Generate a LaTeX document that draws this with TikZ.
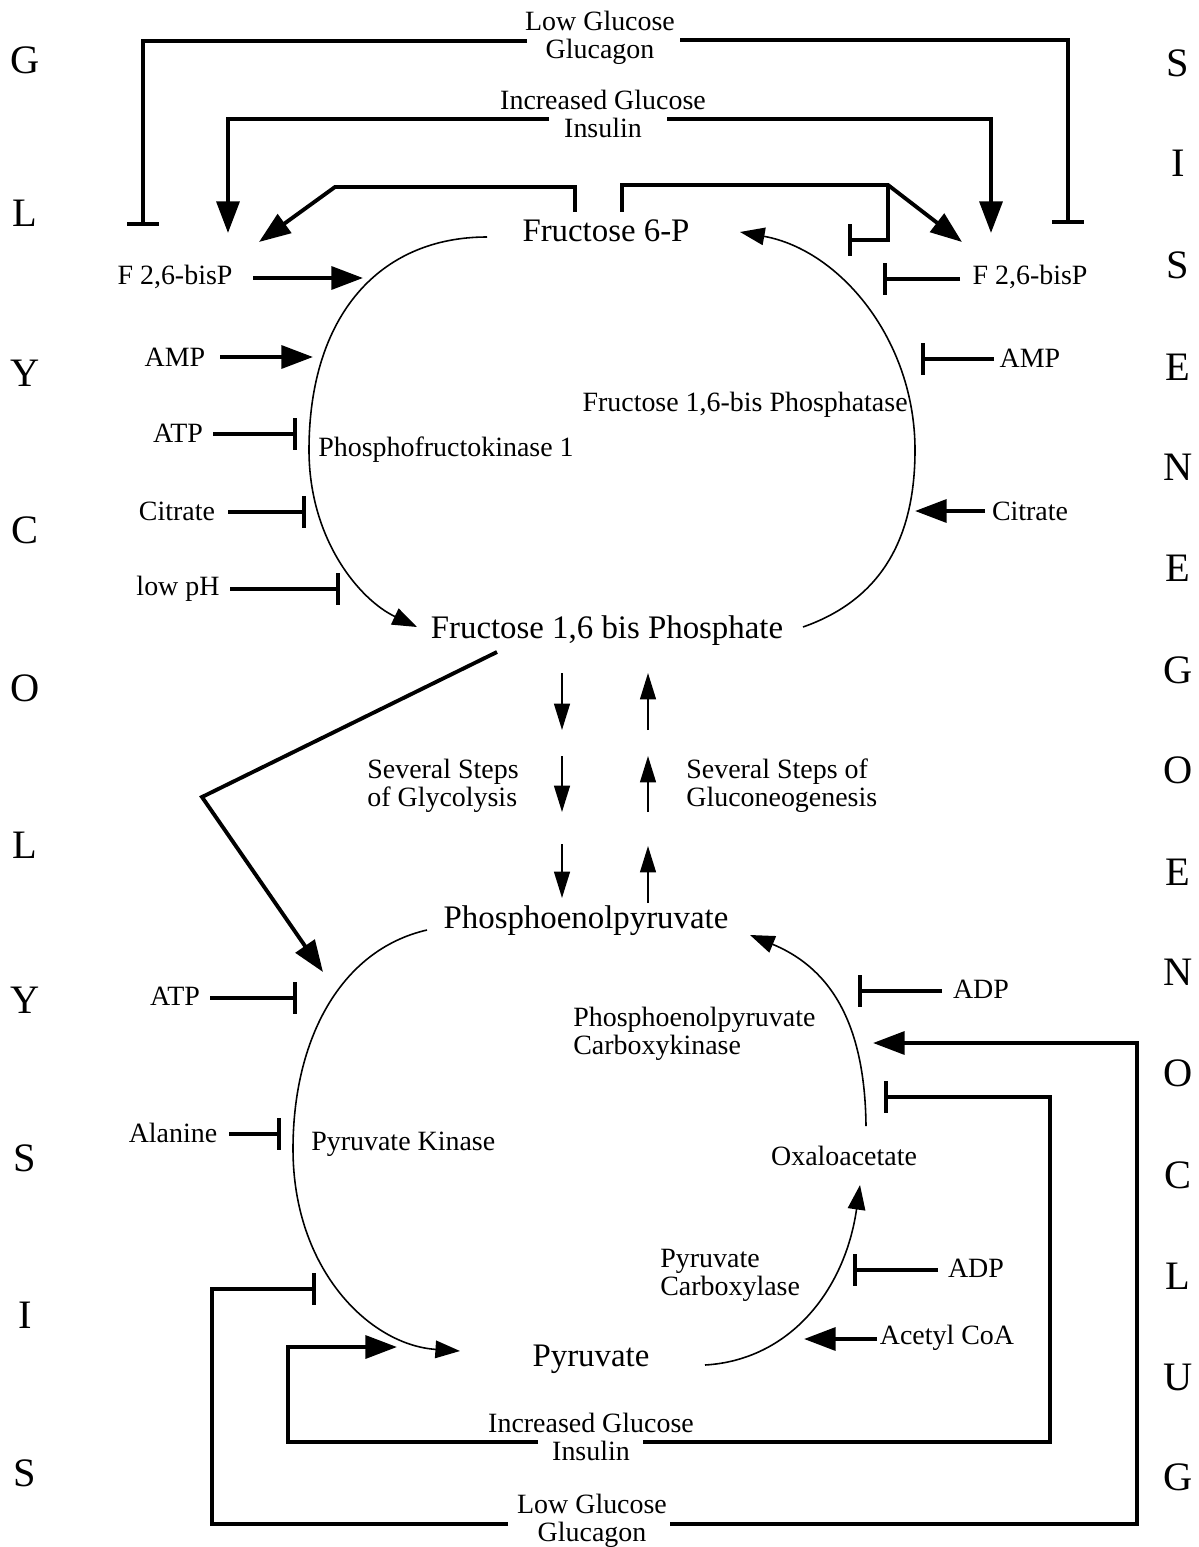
\documentclass[tikz,border=0pt]{standalone}
\usepackage{fontspec}
\setmainfont{Liberation Serif}
\usetikzlibrary{arrows.meta}
\begin{document}
\begin{tikzpicture}[x=0.02cm,y=-0.02cm,
  lbl/.style={font=\fontsize{15.9}{15.9}\selectfont, inner sep=0pt, align=center},
  lbll/.style={font=\fontsize{15.9}{15.9}\selectfont, inner sep=0pt, align=left},
  big/.style={font=\fontsize{18.7}{20}\selectfont, inner sep=0pt},
  sideletter/.style={font=\fontsize{23}{23}\selectfont, inner sep=0pt},
  act/.style={line width=2.2pt, -{Triangle[length=18pt,width=13pt]}},
  inh/.style={line width=2.2pt, -{Bar[width=18pt]}},
  flow/.style={line width=0.9pt, -{Triangle[length=14pt,width=10pt]}},
  stepflow/.style={line width=1.1pt, -{Triangle[length=15pt,width=9pt]}}
]
\useasboundingbox (0,0) rectangle (1199,1547);

% --- pathway labels on both sides ---
\foreach \ch/\yy [count=\i] in {G/60,L/213,Y/373,C/530,O/688,L/845,Y/1000,S/1158,I/1315,S/1473}
  \node[sideletter] (gly\i) at (25,\yy) {\ch};
\foreach \ch/\yy [count=\i] in {S/63,I/163,S/265,E/367,N/467,E/568,G/670,O/770,E/872,N/972,O/1073,C/1175,L/1276,U/1377,G/1477}
  \node[sideletter] (gng\i) at (1178,\yy) {\ch};

% --- metabolites ---
\node[big] (f6p)   at (606,231)  {Fructose 6-P};
\node[big] (f16bp) at (607,631)  {Fructose 1,6 bis Phosphate};
\node[big] (pep)   at (586,921)  {Phosphoenolpyruvate};
\node[big] (pyr)   at (591,1359) {Pyruvate};

% --- enzymes ---
\node[lbl,anchor=west] (pfk)    at (318,450) {Phosphofructokinase 1};
\node[lbl,anchor=east] (fbpase) at (908,405) {Fructose 1,6-bis Phosphatase};
\node[lbl,anchor=west] (pk)     at (311,1144) {Pyruvate Kinase};
\node[lbll,anchor=west] (pepck) at (573,1034) {Phosphoenolpyruvate\\Carboxykinase};
\node[lbl] (oaa) at (844,1156) {Oxaloacetate};
\node[lbll,anchor=west] (pc) at (660,1275) {Pyruvate\\Carboxylase};
\node[lbll,anchor=west] (sgly) at (367,786) {Several Steps\\of Glycolysis};
\node[lbll,anchor=west] (sgng) at (686,786) {Several Steps of\\Gluconeogenesis};

% --- hormonal signals ---
\node[lbl] (lowT)  at (600,38)   {Low Glucose\\Glucagon};
\node[lbl] (incT)  at (603,114)  {Increased Glucose\\Insulin};
\node[lbl] (incB)  at (591,1437) {Increased Glucose\\Insulin};
\node[lbl] (lowB)  at (592,1521) {Low Glucose\\Glucagon};

% --- effectors ---
\node[lbl] (f26L)  at (175,277)  {F 2,6-bisP};
\node[lbl] (ampL)  at (175,357)  {AMP};
\node[lbl] (atpL)  at (178,433)  {ATP};
\node[lbl] (citL)  at (177,511)  {Citrate};
\node[lbl] (phL)   at (178,589)  {low pH};
\node[lbl] (atpL2) at (175,996)  {ATP};
\node[lbl] (ala)   at (173,1133) {Alanine};
\node[lbl] (f26R)  at (1030,277) {F 2,6-bisP};
\node[lbl] (ampR)  at (1030,358) {AMP};
\node[lbl] (citR)  at (1030,511) {Citrate};
\node[lbl] (adp1)  at (981,989)  {ADP};
\node[lbl] (adp2)  at (976,1268) {ADP};
\node[lbl] (acoa)  at (947,1338) {Acetyl CoA};

% --- connector end points ---
\coordinate (lowTl) at (527,41);  \coordinate (lowTlc) at (143,41);  \coordinate (lowTle) at (143,226);
\coordinate (lowTr) at (680,40);  \coordinate (lowTrc) at (1068,40); \coordinate (lowTre) at (1068,224);
\coordinate (incTl) at (549,119); \coordinate (incTlc) at (228,119); \coordinate (incTle) at (228,233);
\coordinate (incTr) at (667,119); \coordinate (incTrc) at (991,119); \coordinate (incTre) at (991,233);
\coordinate (bl0) at (575,212); \coordinate (bl1) at (575,187); \coordinate (bl2) at (335,187); \coordinate (bl3) at (259,242);
\coordinate (br0) at (622,212); \coordinate (br1) at (622,185); \coordinate (br2) at (888,185); \coordinate (br3) at (962,242);
\coordinate (br4) at (888,240); \coordinate (br5) at (848,240);

\coordinate (f26Ls) at (253,278); \coordinate (f26Le) at (363,278);
\coordinate (ampLs) at (220,357); \coordinate (ampLe) at (313,357);
\coordinate (atpLs) at (213,434); \coordinate (atpLe) at (297,434);
\coordinate (citLs) at (228,512); \coordinate (citLe) at (306,512);
\coordinate (phLs)  at (230,589); \coordinate (phLe)  at (340,589);
\coordinate (f26Rs) at (960,279); \coordinate (f26Re) at (883,279);
\coordinate (ampRs) at (994,359); \coordinate (ampRe) at (921,359);
\coordinate (citRs) at (985,511); \coordinate (citRe) at (915,511);

\coordinate (dg0) at (497,652); \coordinate (dg1) at (202,797); \coordinate (dg2) at (323,972);

\coordinate (atpL2s) at (210,998);  \coordinate (atpL2e) at (297,998);
\coordinate (alas)   at (229,1134); \coordinate (alae)   at (281,1134);
\coordinate (adp1s)  at (942,991);  \coordinate (adp1e)  at (858,991);
\coordinate (adp2s)  at (938,1270); \coordinate (adp2e)  at (853,1270);
\coordinate (acoas)  at (877,1339); \coordinate (acoae)  at (804,1339);

\coordinate (incBl) at (538,1442); \coordinate (incBl1) at (288,1442); \coordinate (incBl2) at (288,1347); \coordinate (incBle) at (397,1347);
\coordinate (incBr) at (643,1442); \coordinate (incBr1) at (1050,1442); \coordinate (incBr2) at (1050,1097); \coordinate (incBre) at (884,1097);
\coordinate (lowBl) at (508,1524); \coordinate (lowBl1) at (212,1524); \coordinate (lowBl2) at (212,1289); \coordinate (lowBle) at (316,1289);
\coordinate (lowBr) at (670,1524); \coordinate (lowBr1) at (1137,1524); \coordinate (lowBr2) at (1137,1043); \coordinate (lowBre) at (873,1043);

% --- upper substrate cycle ---
\coordinate (pfkA) at (487,237); \coordinate (pfkM) at (309,450); \coordinate (pfkB) at (417,627);
\coordinate (fbpA) at (803,627); \coordinate (fbpM) at (915,450); \coordinate (fbpB) at (740,232);
\draw[flow] (pfkA) .. controls (380,237) and (309,315) .. (pfkM)
                   .. controls (309,540) and (360,600) .. (pfkB);
\draw[flow] (fbpA) .. controls (880,600) and (915,540) .. (fbpM)
                   .. controls (915,340) and (840,250) .. (fbpB);

% --- lower substrate cycle ---
\coordinate (pkA) at (427,930); \coordinate (pkM) at (293,1149); \coordinate (pkB) at (460,1351);
\coordinate (ckA) at (866,1126); \coordinate (ckB) at (750,935);
\coordinate (pcA) at (705,1365); \coordinate (pcB) at (860,1185);
\draw[flow] (pkA) .. controls (340,950) and (293,1040) .. (pkM)
                  .. controls (293,1270) and (370,1345) .. (pkB);
\draw[flow] (ckA) .. controls (865,1030) and (835,970) .. (ckB);
\draw[flow] (pcA) .. controls (790,1360) and (845,1290) .. (pcB);

% --- several steps between the cycles ---
\draw[stepflow] (562,673) -- (562,730);
\draw[stepflow] (562,756) -- (562,812);
\draw[stepflow] (562,844) -- (562,898);
\draw[stepflow] (648,730) -- (648,673);
\draw[stepflow] (648,812) -- (648,756);
\draw[stepflow] (648,903) -- (648,846);

% --- hormonal control, top ---
\draw[inh] (lowTl) -- (lowTlc) -- (lowTle);
\draw[inh] (lowTr) -- (lowTrc) -- (lowTre);
\draw[act] (incTl) -- (incTlc) -- (incTle);
\draw[act] (incTr) -- (incTrc) -- (incTre);
\draw[act] (bl0) -- (bl1) -- (bl2) -- (bl3);
\draw[act] (br0) -- (br1) -- (br2) -- (br3);
\draw[inh] (br2) -- (br4) -- (br5);

% --- effectors, upper cycle ---
\draw[act] (f26Ls) -- (f26Le);
\draw[act] (ampLs) -- (ampLe);
\draw[inh] (atpLs) -- (atpLe);
\draw[inh] (citLs) -- (citLe);
\draw[inh] (phLs)  -- (phLe);
\draw[inh] (f26Rs) -- (f26Re);
\draw[inh] (ampRs) -- (ampRe);
\draw[act] (citRs) -- (citRe);

% --- feed-forward activation of pyruvate kinase ---
\draw[act] (dg0) -- (dg1) -- (dg2);

% --- effectors, lower cycle ---
\draw[inh] (atpL2s) -- (atpL2e);
\draw[inh] (alas) -- (alae);
\draw[inh] (adp1s) -- (adp1e);
\draw[inh] (adp2s) -- (adp2e);
\draw[act] (acoas) -- (acoae);

% --- hormonal control, bottom ---
\draw[act] (incBl) -- (incBl1) -- (incBl2) -- (incBle);
\draw[inh] (incBr) -- (incBr1) -- (incBr2) -- (incBre);
\draw[inh] (lowBl) -- (lowBl1) -- (lowBl2) -- (lowBle);
\draw[act] (lowBr) -- (lowBr1) -- (lowBr2) -- (lowBre);
\end{tikzpicture}
\end{document}
